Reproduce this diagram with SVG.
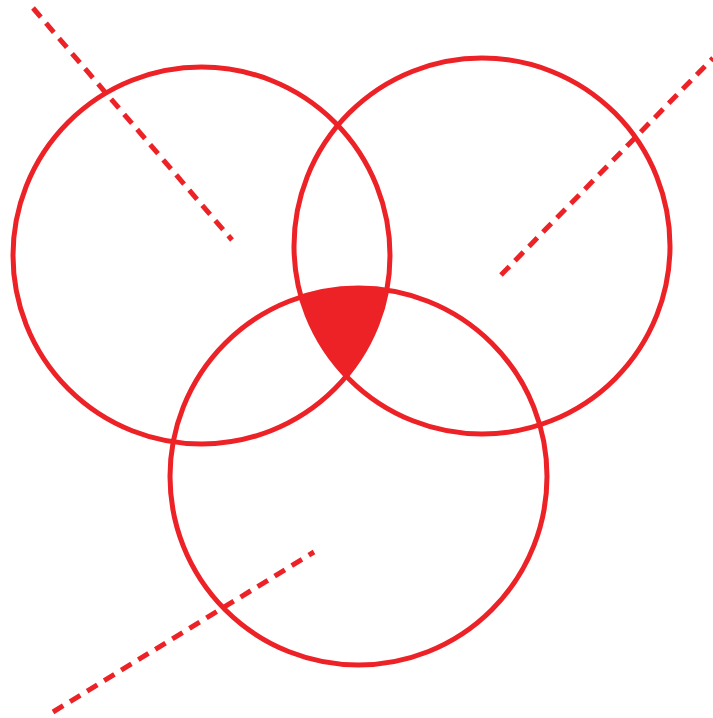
<svg xmlns="http://www.w3.org/2000/svg" width="713" height="718" viewBox="0 0 713 718">
<style>
.c{fill:none;stroke:#ED2227;stroke-width:5}
.d{fill:none;stroke:#ED2227;stroke-width:5;stroke-dasharray:12 8}
</style>
<rect width="713" height="718" fill="#fff"/>
<g id="intersection">
<path d="M301.06,297 A188.5,188.5 0 0 1 386.8,290.1 A188.5,188.5 0 0 1 346.3,376.2 A188,188 0 0 1 301.06,297 Z" fill="#ED2227"/>
</g>
<g id="circle1"><circle class="c" cx="201.5" cy="255.5" r="188.5"/></g>
<g id="circle2"><circle class="c" cx="482" cy="246" r="188"/></g>
<g id="circle3"><circle class="c" cx="358.5" cy="476.5" r="188.5"/></g>
<g id="connectors">
<line class="d" x1="33" y1="8" x2="232" y2="240"/>
<line class="d" x1="501" y1="275" x2="713" y2="58"/>
<line class="d" x1="53" y1="712" x2="314" y2="552"/>
</g>
</svg>
